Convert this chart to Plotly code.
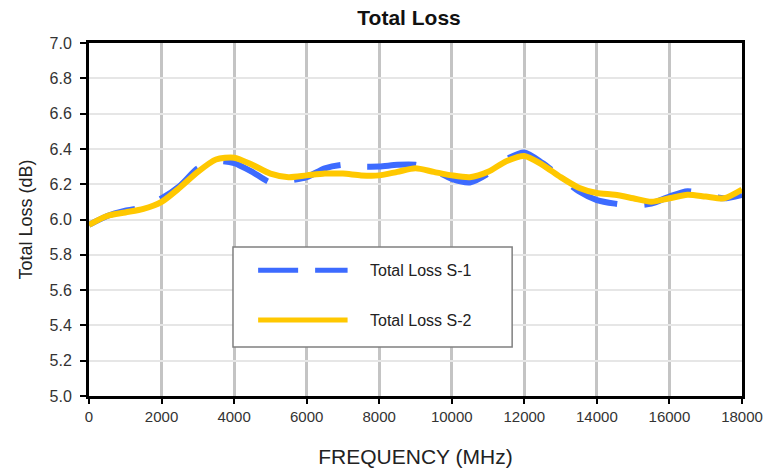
import plotly.graph_objects as go

freq_mhz = [0, 500, 1000, 1500, 2000, 2500, 3000, 3500, 4000, 4500, 5000, 5500, 6000,
            6500, 7000, 7500, 8000, 8500, 9000, 9500, 10000, 10500, 11000, 11500, 12000,
            12500, 13000, 13500, 14000, 14500, 15000, 15500, 16000, 16500, 17000, 17500, 18000]

loss_s1 = [5.97, 6.02, 6.05, 6.07, 6.12, 6.19, 6.29, 6.33, 6.32, 6.27, 6.21, 6.22, 6.24,
           6.29, 6.31, 6.30, 6.30, 6.31, 6.31, 6.28, 6.23, 6.21, 6.26, 6.34, 6.38,
           6.32, 6.24, 6.16, 6.11, 6.09, 6.08, 6.09, 6.13, 6.16, 6.14, 6.12, 6.14]

loss_s2 = [5.97, 6.02, 6.04, 6.06, 6.10, 6.18, 6.27, 6.34, 6.35, 6.31, 6.26, 6.24, 6.25,
           6.26, 6.26, 6.25, 6.25, 6.27, 6.29, 6.27, 6.25, 6.24, 6.27, 6.33, 6.36,
           6.31, 6.24, 6.18, 6.15, 6.14, 6.12, 6.10, 6.12, 6.14, 6.13, 6.12, 6.17]

series_names = ["Total Loss S-1", "Total Loss S-2"]
x_ticks = list(range(0, 18001, 2000))
y_ticks = [5.0 + 0.2 * i for i in range(11)]

BLUE = "#3D6BFF"
GOLD = "#FFC800"
FONT = "Liberation Sans, Arial, sans-serif"

fig = go.Figure()
fig.add_trace(go.Scatter(x=freq_mhz, y=loss_s1, mode="lines", name=series_names[0],
                         line=dict(color=BLUE, width=6, dash="49px,27px", shape="spline", smoothing=0.7),
                         showlegend=False, hoverinfo="skip"))
fig.add_trace(go.Scatter(x=freq_mhz, y=loss_s2, mode="lines", name=series_names[1],
                         line=dict(color=GOLD, width=6, shape="spline", smoothing=0.7),
                         showlegend=False, hoverinfo="skip"))

# Legend box (drawn manually to match the long sample lines)
fig.add_shape(type="rect", xref="paper", yref="paper", x0=0.2205, x1=0.648, y0=0.139, y1=0.422,
              line=dict(color="#808080", width=1.5), fillcolor="white", layer="above")
fig.add_shape(type="line", xref="paper", yref="paper", x0=0.259, x1=0.396, y0=0.356, y1=0.356,
              line=dict(color=BLUE, width=5, dash="40px,17px"), layer="above")
fig.add_shape(type="line", xref="paper", yref="paper", x0=0.259, x1=0.396, y0=0.215, y1=0.215,
              line=dict(color=GOLD, width=5), layer="above")
fig.add_annotation(xref="paper", yref="paper", x=0.427, y=0.356, text=series_names[0],
                   showarrow=False, xanchor="left", yanchor="middle",
                   font=dict(family=FONT, size=16, color="#222222"))
fig.add_annotation(xref="paper", yref="paper", x=0.427, y=0.215, text=series_names[1],
                   showarrow=False, xanchor="left", yanchor="middle",
                   font=dict(family=FONT, size=16, color="#222222"))

fig.update_layout(
    width=766, height=473,
    margin=dict(l=89, r=24, t=43, b=77, autoexpand=False),
    paper_bgcolor="white", plot_bgcolor="white",
    title=dict(text="<b>Total Loss</b>", x=0.534, xanchor="center", y=0.979, yanchor="top",
               font=dict(family=FONT, size=21, color="#111111")),
    xaxis=dict(range=[0, 18000], tickvals=x_ticks, ticktext=[str(v) for v in x_ticks],
               showgrid=True, gridcolor="#C4C4C4", gridwidth=3,
               showline=True, linecolor="black", linewidth=3, mirror=True,
               ticks="outside", ticklen=5, tickwidth=2, tickcolor="black",
               tickfont=dict(family=FONT, size=15, color="#333333"),
               automargin=False,
               title=dict(text="FREQUENCY (MHz)", standoff=26,
                          font=dict(family=FONT, size=21, color="#222222")),
               zeroline=False),
    yaxis=dict(range=[5.0, 7.0], tickvals=y_ticks, ticktext=[f"{v:.1f}" for v in y_ticks],
               showgrid=True, gridcolor="#E6E6E6", gridwidth=2,
               showline=True, linecolor="black", linewidth=3, mirror=True,
               ticks="outside", ticklen=6, tickwidth=2, tickcolor="black",
               ticklabelstandoff=5,
               tickfont=dict(family=FONT, size=16, color="#333333"),
               automargin=False,
               title=dict(text="Total Loss (dB)", standoff=13,
                          font=dict(family=FONT, size=18, color="#222222")),
               zeroline=False),
)

fig.write_html("out.html", config={"displayModeBar": False},
               post_script="document.body.style.margin='0';")
